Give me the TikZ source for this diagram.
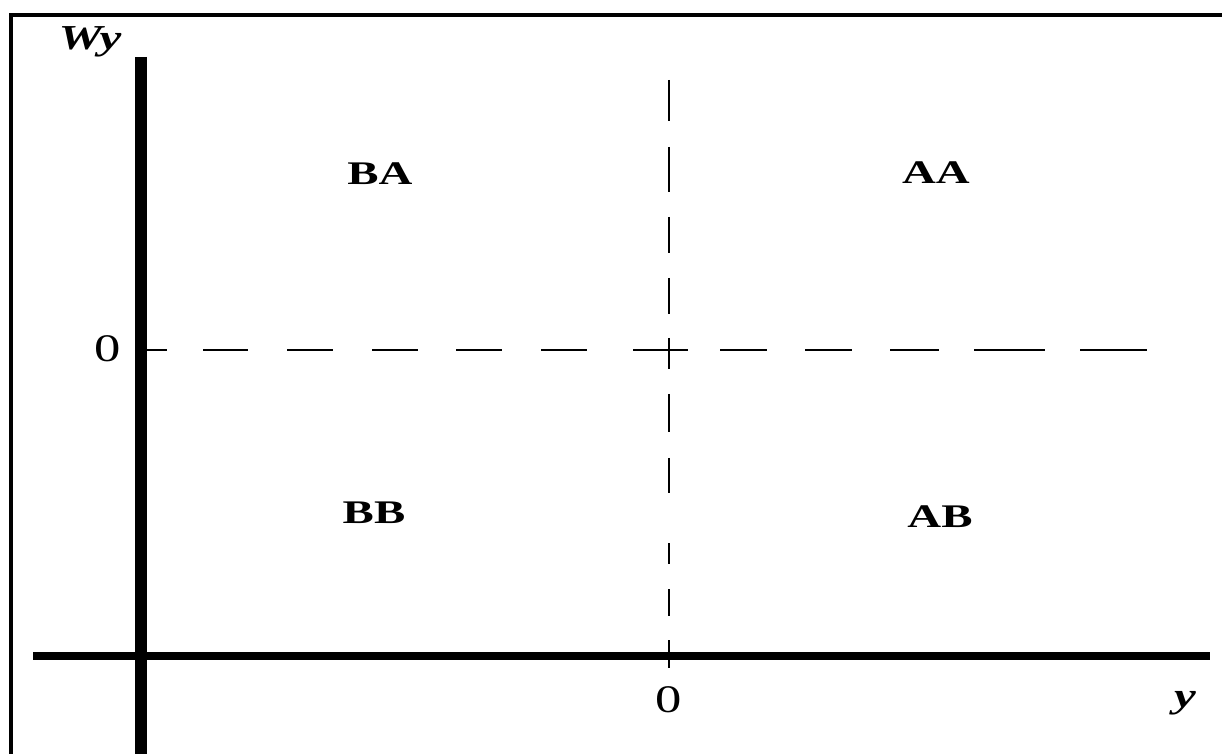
\documentclass[tikz,border=0pt]{standalone}
\usepackage{fontspec}
\setmainfont{Liberation Serif}
\begin{document}
\begin{tikzpicture}[x=0.5pt,y=-0.5pt,
  frame/.style={line width=1.7pt,line cap=rect},
  vaxis/.style={line width=6pt},
  haxis/.style={line width=4pt},
  guide/.style={line width=1.2pt},
  region/.style={inner sep=0pt,font=\fontsize{16.5}{18}\selectfont\bfseries},
  num/.style={inner sep=0pt,font=\fontsize{19.5}{22}\selectfont},
  axlabel/.style={inner sep=0pt,anchor=base,font=\fontsize{17.5}{20}\selectfont\bfseries\itshape}]
\useasboundingbox (0,0) rectangle (1222,754);
% frame
\draw[frame] (11,760) -- (11,15) -- (1230,15);
% dashed guides
\foreach \a/\b in {80/121,147/192,217/253,278/314,338/369,394/432,458/493,543/564,589/616,640/668}
  \draw[guide] (669,\a) -- (669,\b);
\foreach \a/\b in {145/167,203/248,287/333,372/418,456/502,541/587,633/688,720/767,805/852,890/939,974/1045,1080/1147}
  \draw[guide] (\a,350) -- (\b,350);
% axes
\draw[vaxis] (141,57) -- (141,760);
\draw[haxis] (33,656) -- (1210,656);
% labels
\node[axlabel] (wy) at (90,50) {\scalebox{1.4}[1]{Wy}};
\node[axlabel] (ylab) at (1185,707) {\scalebox{1.4}[1]{y}};
\node[num] (zeroy) at (108,349) {\scalebox{1.35}[1]{0}};
\node[num] (zerox) at (669,700) {\scalebox{1.35}[1]{0}};
\node[region] (ba) at (380,174) {\scalebox{1.42}[1]{BA}};
\node[region] (aa) at (936,173) {\scalebox{1.42}[1]{AA}};
\node[region] (bb) at (374,513) {\scalebox{1.42}[1]{BB}};
\node[region] (ab) at (940,517) {\scalebox{1.42}[1]{AB}};
\end{tikzpicture}
\end{document}
